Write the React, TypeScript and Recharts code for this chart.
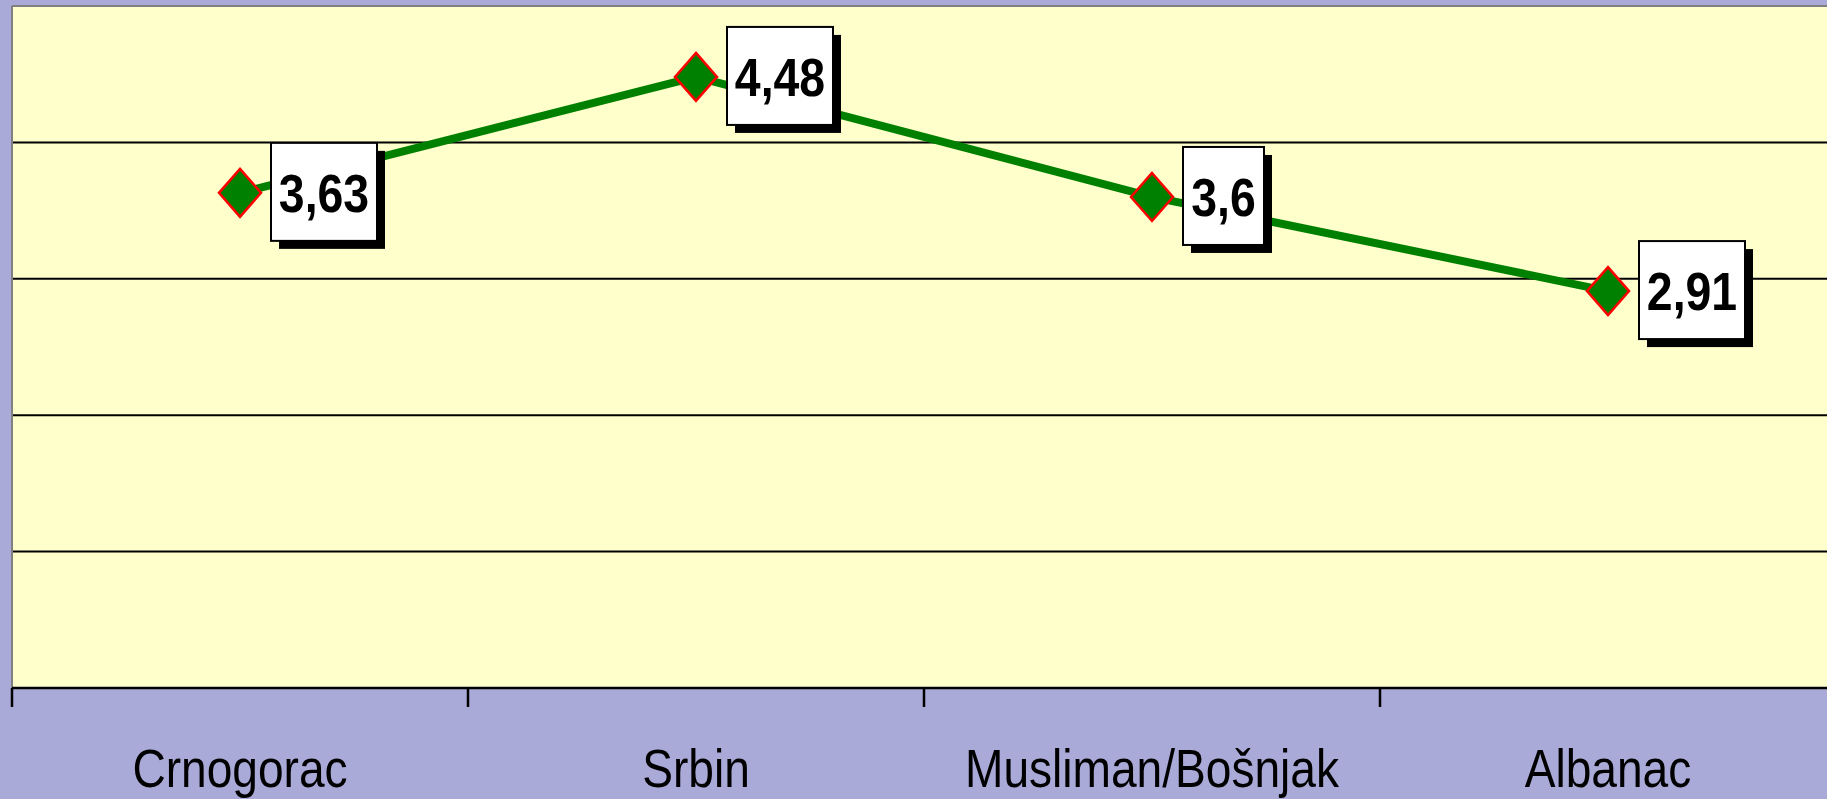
import { CartesianGrid, LabelList, Line, LineChart, ReferenceLine, XAxis, YAxis } from "recharts";

const categories = ["Crnogorac", "Srbin", "Musliman/Bošnjak", "Albanac"];
const values = [3.63, 4.48, 3.6, 2.91];
const valueLabels = ["3,63", "4,48", "3,6", "2,91"];
const edgeTicks = [0, 1, 2, 3, 4];
const gridTicks = [1, 2, 3, 4];

// each point sits in the middle of its category band
const chartData = categories.map((name, i) => ({
  name,
  pos: i + 0.5,
  value: values[i],
  label: valueLabels[i],
}));

const WIDTH = 1840;
const HEIGHT = 799;
const MARGIN = { top: 6, right: 4, left: 12, bottom: 0 };
const BAND = (WIDTH - MARGIN.left - MARGIN.right) / categories.length;

// no narrow font installed, so squeeze Liberation Sans horizontally
const FONT = '"Liberation Sans", Arial, sans-serif';
const SQUEEZE = 0.86;

const Diamond = ({ cx, cy }: any) => {
  if (cx == null || cy == null) return null;
  return (
    <path
      d={`M${cx},${cy - 24}L${cx + 21},${cy}L${cx},${cy + 24}L${cx - 21},${cy}Z`}
      fill="#008000"
      stroke="#FF0000"
      strokeWidth={2.5}
    />
  );
};

const ValueBox = (props: any) => {
  const { x, y, value } = props;
  if (x == null || y == null) return null;
  const text = String(value);
  const digits = text.replace(/[^0-9]/g, "").length;
  const commas = text.length - digits;
  const w = 20 + digits * 25 + commas * 11;
  const h = 98;
  const left = x + 31;
  const top = y - h / 2 - 1;
  return (
    <g>
      <rect x={left + 8} y={top + 8} width={w} height={h} fill="#000" />
      <rect x={left} y={top} width={w} height={h} fill="#fff" stroke="#000" strokeWidth={2} />
      <text
        transform={`translate(${left + w / 2},${top + h / 2 + 20}) scale(${SQUEEZE},1)`}
        textAnchor="middle"
        fontFamily={FONT}
        fontWeight="bold"
        fontSize={54}
        fill="#000"
      >
        {text}
      </text>
    </g>
  );
};

const CategoryTick = ({ x, y, payload }: any) => {
  const name = categories[payload.value];
  if (!name) return null;
  return (
    <text
      transform={`translate(${x + BAND / 2},${y}) scale(0.87,1)`}
      dy="0.71em"
      textAnchor="middle"
      fontFamily={FONT}
      fontSize={53}
      fill="#000"
    >
      {name}
    </text>
  );
};

export default function App() {
  return (
    <div
      style={{
        position: "absolute",
        left: 0,
        top: 0,
        width: 1827,
        height: 799,
        overflow: "hidden",
        background: "#AAAAD8",
      }}
    >
      <LineChart width={WIDTH} height={HEIGHT} data={chartData} margin={MARGIN}>
        <CartesianGrid
          horizontal
          vertical={false}
          fill="#FFFFCC"
          fillOpacity={1}
          stroke="#000"
          strokeWidth={2}
        />
        <ReferenceLine y={5} stroke="#808080" strokeWidth={2} />
        <ReferenceLine x={0} stroke="#808080" strokeWidth={2} />
        <XAxis
          dataKey="pos"
          type="number"
          domain={[0, 4]}
          ticks={edgeTicks}
          interval={0}
          height={111}
          tickSize={19}
          tickMargin={42}
          axisLine={{ stroke: "#000", strokeWidth: 2.5 }}
          tickLine={{ stroke: "#000", strokeWidth: 2.5 }}
          tick={<CategoryTick />}
        />
        <YAxis hide domain={[0, 5]} ticks={gridTicks} />
        <Line
          dataKey="value"
          stroke="#008000"
          strokeWidth={8}
          dot={<Diamond />}
          activeDot={false}
          isAnimationActive={false}
        >
          <LabelList dataKey="label" content={<ValueBox />} />
        </Line>
      </LineChart>
    </div>
  );
}
